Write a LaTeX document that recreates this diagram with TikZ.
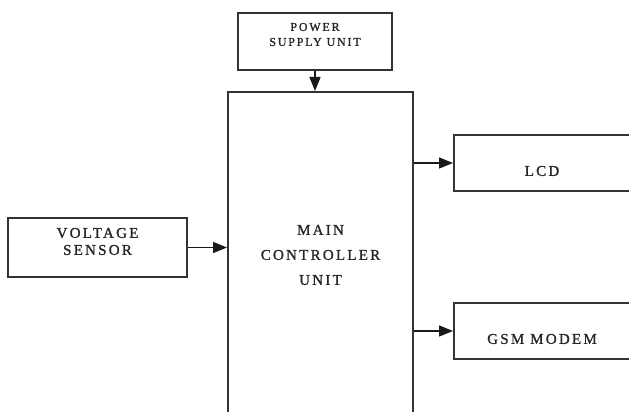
\documentclass[tikz,border=0pt]{standalone}
\usepackage{fontspec}
\setmainfont{Liberation Serif}
\newfontfamily\blkfont[LetterSpace=15,FakeBold=1.2]{Liberation Serif}
\usetikzlibrary{arrows.meta}
\definecolor{edge}{RGB}{50,50,50}

\begin{document}
\begin{tikzpicture}[x=1pt,y=-1pt,
  blk/.style={draw=edge,line width=2pt,inner sep=0pt},
  txt/.style={font=\blkfont\fontsize{15}{25}\selectfont,align=center,inner sep=0pt,text=black!85},
  arr/.style={line width=1.4pt,black!90,-{Triangle[length=14pt,width=11pt]}}]
  \useasboundingbox (0,0) rectangle (629,412);
  \clip (0,0) rectangle (629,412);
  % blocks
  \node[blk,minimum width=154pt,minimum height=57pt] (psu) at (315,41.5) {};
  \node[txt,font=\blkfont\fontsize{12}{15}\selectfont] at ([yshift=7pt]psu.center) {POWER\\SUPPLY UNIT};
  \node[blk,minimum width=185pt,minimum height=340pt] (mcu) at (320.5,262) {};
  \node[txt] at ([yshift=7pt]mcu.center) {MAIN\\CONTROLLER\\UNIT};
  \node[blk,minimum width=179pt,minimum height=59pt] (vs) at (97.5,247.5) {};
  \node[txt,font=\blkfont\fontsize{15}{17}\selectfont] at ([yshift=6pt]vs.center) {VOLTAGE\\SENSOR};
  \foreach \n/\y/\t in {lcd/163/LCD,gsm/331/GSM MODEM} {
    \node[blk,minimum width=176pt,minimum height=56pt] (\n) at (542,\y) {};
    \node[txt] at ([yshift=-8pt]\n.center) {\t};
    \draw[arr] (\n.west -| mcu.east) -- (\n.west);
  }
  % inputs
  \draw[arr] (psu.south) -- (psu.south |- mcu.north);
  \draw[arr] (vs.east) -- (vs.east -| mcu.west);
\end{tikzpicture}
\end{document}
